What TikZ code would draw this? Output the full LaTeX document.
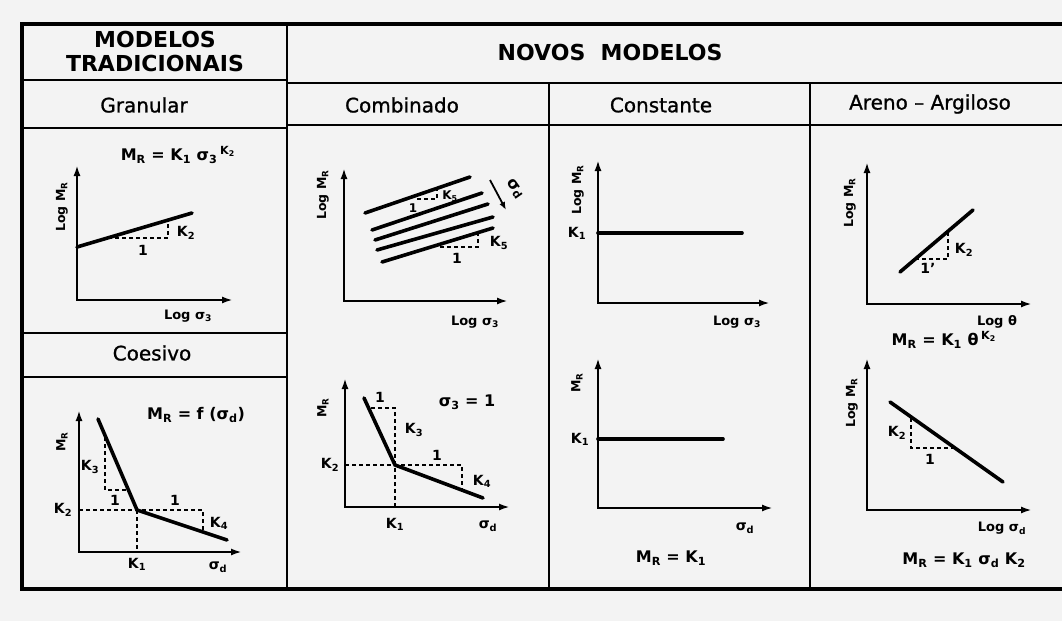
\documentclass[tikz,border=0pt]{standalone}
\usepackage{fontspec}
\setmainfont{DejaVu Sans}
\newfontfamily\lettering[FakeBold=1]{DejaVu Sans}
\usetikzlibrary{arrows.meta}
\definecolor{scan}{RGB}{243,243,243}
\newcommand{\idx}[1]{\textsubscript{#1}}
\newcommand{\pw}[1]{\textsuperscript{#1}}

\begin{document}
\begin{tikzpicture}[x=1pt,y=-1pt,
                    frame/.style={line width=3.5pt},
                    rule/.style={line width=2pt},
                    axes/.style={line width=2.4pt,line join=miter,
                                 {Latex[length=11pt,width=7pt]}-{Latex[length=11pt,width=7pt]}},
                    pointer/.style={line width=1.8pt,-{Latex[length=8pt,width=6pt]}},
                    curve/.style={line width=3.6pt,line cap=round},
                    guide/.style={line width=1.3pt,dash pattern=on 4pt off 3pt},
                    head/.style={font=\fontsize{22}{24}\selectfont\bfseries,align=center},
                    title/.style={font=\fontsize{20}{22}\selectfont\lettering},
                    eqn/.style={font=\fontsize{16}{18}\selectfont\bfseries},
                    lab/.style={font=\fontsize{14}{16}\selectfont\bfseries,inner sep=1pt},
                    ylab/.style={font=\fontsize{12.5}{14}\selectfont\bfseries,inner sep=1pt,rotate=90},
                    xlab/.style={font=\fontsize{13}{15}\selectfont\bfseries,inner sep=1pt}
                   ]
  \fill[scan] (0,0) rectangle (1062,621);
  \useasboundingbox (0,0) rectangle (1062,621);

  % table
  \draw[frame] (1062,24) -- (22,24) -- (22,589) -- (1062,589);
  \draw[rule] (287,24) -- (287,589);
  \draw[rule] (22,80) -- (287,80);
  \draw[rule] (22,128) -- (287,128);
  \draw[rule] (287,83) -- (1062,83);
  \draw[rule] (287,125) -- (1062,125);
  \draw[rule] (549,83) -- (549,589);
  \draw[rule] (810,83) -- (810,589);
  \draw[rule] (22,333) -- (287,333);
  \draw[rule] (22,377) -- (287,377);

  \node[head] (trad) at (155,51) {MODELOS\\TRADICIONAIS};
  \node[head] (novos) at (610,52) {NOVOS~~MODELOS};
  \node[title] (gran) at (144,105) {Granular};
  \node[title] (comb) at (402,105) {Combinado};
  \node[title] (const) at (661,105) {Constante};
  \node[title] (areno) at (930,104) {Areno – Argiloso};
  \node[title] (coes) at (152,353) {Coesivo};

  % granular
  \node[eqn] (granEq) at (178,155) {M\idx{R} = K\idx{1} σ\idx{3}\,\pw{K\idx{2}}};
  \draw[axes] (77,165) -- (77,300) -- (233,300);
  \draw[curve] (77,247) -- (192,213);
  \draw[guide] (108,238) -- (168,238) -- (168,220);
  \node[lab] (granOne) at (143,250) {1};
  \node[lab] (granK) at (186,233) {K\idx{2}};
  \node[ylab] (granY) at (62,207) {Log M\idx{R}};
  \node[xlab] (granX) at (188,316) {Log σ\idx{3}};

  % coesivo
  \node[eqn] (coesEq) at (196,415) {M\idx{R} = f (σ\idx{d})};
  \draw[axes] (79,410) -- (79,552) -- (242,552);
  \draw[curve] (98,419) -- (137,510) -- (227,540);
  \draw[guide] (79,510) -- (203,510) -- (203,531);
  \draw[guide] (137,510) -- (137,552);
  \draw[guide] (105,437) -- (105,490) -- (127,490);
  \node[lab] (coesK3) at (90,467) {K\idx{3}};
  \node[lab] (coesOneA) at (115,500) {1};
  \node[lab] (coesOneB) at (175,500) {1};
  \node[lab] (coesK4) at (219,523) {K\idx{4}};
  \node[lab] (coesK2) at (63,510) {K\idx{2}};
  \node[lab] (coesK1) at (137,564) {K\idx{1}};
  \node[lab] (coesX) at (218,567) {σ\idx{d}};
  \node[ylab] (coesY) at (62,442) {M\idx{R}};

  % combinado
  \draw[axes] (344,168) -- (344,301) -- (508,301);
  \draw[curve] (365,213) -- (470,177);
  \draw[curve] (372,230) -- (482,193);
  \draw[curve] (375,240) -- (488,204);
  \draw[curve] (377,250) -- (493,217);
  \draw[curve] (382,262) -- (493,228);
  \draw[guide] (417,199) -- (437,199) -- (437,189);
  \draw[guide] (440,247) -- (478,247) -- (478,234);
  \node[lab,font=\fontsize{12}{14}\selectfont\bfseries] (combOneA) at (413,208) {1};
  \node[lab,font=\fontsize{12}{14}\selectfont\bfseries] (combKa) at (450,196) {K\idx{5}};
  \node[lab] (combOneB) at (457,258) {1};
  \node[lab] (combKb) at (499,243) {K\idx{5}};
  \draw[pointer] (490,180) -- (506,210);
  \node[eqn,rotate=-55] (combSd) at (515,189) {σ\idx{d}};
  \node[ylab] (combY) at (323,195) {Log M\idx{R}};
  \node[xlab] (combX) at (475,322) {Log σ\idx{3}};

  \draw[axes] (345,378) -- (345,507) -- (510,507);
  \draw[curve] (364,398) -- (395,465) -- (483,498);
  \draw[guide] (345,465) -- (462,465) -- (462,489);
  \draw[guide] (395,507) -- (395,408) -- (370,408);
  \node[lab] (combOneC) at (380,397) {1};
  \node[lab] (combK3) at (414,430) {K\idx{3}};
  \node[lab] (combOneD) at (437,455) {1};
  \node[lab] (combK4) at (482,481) {K\idx{4}};
  \node[lab] (combK2) at (330,465) {K\idx{2}};
  \node[lab] (combK1) at (395,524) {K\idx{1}};
  \node[lab] (combXd) at (488,526) {σ\idx{d}};
  \node[eqn] (combEq) at (467,402) {σ\idx{3} = 1};
  \node[ylab] (combYd) at (323,408) {M\idx{R}};

  % constante
  \draw[axes] (598,160) -- (598,303) -- (770,303);
  \draw[curve] (598,233) -- (742,233);
  \node[lab] (constK) at (577,233) {K\idx{1}};
  \node[ylab] (constY) at (578,190) {Log M\idx{R}};
  \node[xlab] (constX) at (737,322) {Log σ\idx{3}};

  \draw[axes] (598,358) -- (598,508) -- (773,508);
  \draw[curve] (598,439) -- (723,439);
  \node[lab] (constKd) at (580,439) {K\idx{1}};
  \node[ylab] (constYd) at (577,383) {M\idx{R}};
  \node[lab] (constXd) at (745,528) {σ\idx{d}};
  \node[eqn] (constEq) at (671,558) {M\idx{R} = K\idx{1}};

  % areno-argiloso
  \draw[axes] (867,162) -- (867,304) -- (1032,304);
  \draw[curve] (900,272) -- (973,210);
  \draw[guide] (915,259) -- (948,259) -- (948,232);
  \node[lab] (arenK) at (964,250) {K\idx{2}};
  \node[lab] (arenOne) at (928,268) {1'};
  \node[ylab] (arenY) at (850,203) {Log M\idx{R}};
  \node[xlab] (arenX) at (997,322) {Log θ};
  \node[eqn] (arenEq) at (944,340) {M\idx{R} = K\idx{1} θ\,\pw{K\idx{2}}};

  \draw[axes] (867,358) -- (867,510) -- (1032,510);
  \draw[curve] (890,402) -- (1003,482);
  \draw[guide] (911,418) -- (911,448) -- (954,448);
  \node[lab] (arenK2) at (897,433) {K\idx{2}};
  \node[lab] (arenOneD) at (930,459) {1};
  \node[ylab] (arenYd) at (852,403) {Log M\idx{R}};
  \node[xlab] (arenXd) at (1002,528) {Log σ\idx{d}};
  \node[eqn] (arenEqd) at (964,560) {M\idx{R} = K\idx{1} σ\idx{d} K\idx{2}};
\end{tikzpicture}
\end{document}
